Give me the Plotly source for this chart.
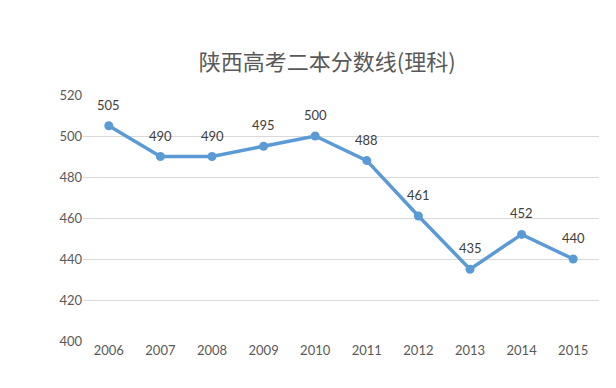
import plotly.graph_objects as go

years = ["2006", "2007", "2008", "2009", "2010", "2011", "2012", "2013", "2014", "2015"]
scores = [505, 490, 490, 495, 500, 488, 461, 435, 452, 440]
y_ticks = [400, 420, 440, 460, 480, 500, 520]

fig = go.Figure()
fig.add_trace(go.Scatter(
    x=years, y=scores, mode="lines+markers",
    line=dict(color="#5B9BD5", width=3.5),
    marker=dict(color="#5B9BD5", size=9),
    cliponaxis=False, hoverinfo="skip",
))
# data labels (category index on the category axis)
for i, v in enumerate(scores):
    fig.add_annotation(x=i, y=v, text=str(v), showarrow=False, yshift=21,
                       font=dict(family="Lato, Noto Sans", size=13, color="#404040"))
fig.update_layout(
    width=608, height=380,
    margin=dict(l=75, r=17, t=87, b=47),
    paper_bgcolor="white", plot_bgcolor="white",
    showlegend=False,
    title=dict(text="陕西高考二本分数线(理科)", x=0.525, xanchor="center", y=0.858, yanchor="middle",
               font=dict(family="Noto Sans CJK SC", size=22, color="#595959")),
    xaxis=dict(type="category", range=[-0.5, 9.5], showgrid=False, showline=False, ticks="",
               tickfont=dict(family="Lato, Noto Sans", size=13, color="#595959")),
    yaxis=dict(range=[400, 520], tickvals=y_ticks, showgrid=True, gridcolor="#D9D9D9",
               gridwidth=1, zeroline=False, showline=False, ticks="", ticklen=0,
               tickfont=dict(family="Lato, Noto Sans", size=13, color="#595959")),
)
fig.write_html("out.html")
